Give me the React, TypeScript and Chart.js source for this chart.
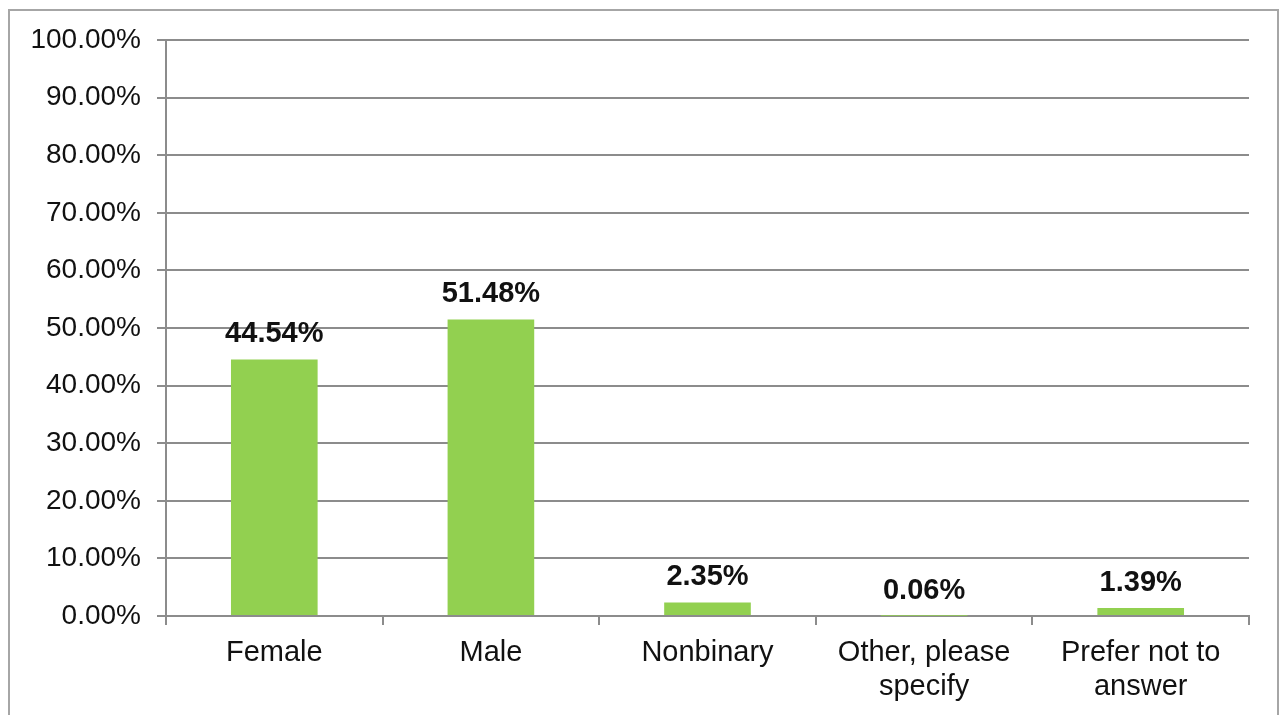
import React, { useEffect, useRef } from "react";
import { Chart, registerables } from "chart.js";

Chart.register(...registerables);

const categories: (string | string[])[] = [
  "Female",
  "Male",
  "Nonbinary",
  ["Other, please", "specify"],
  ["Prefer not to", "answer"],
];
const values: number[] = [44.54, 51.48, 2.35, 0.06, 1.39];
const yTickValues: number[] = [0, 10, 20, 30, 40, 50, 60, 70, 80, 90, 100];

const FONT = "'Liberation Sans', Arial, sans-serif";
const TEXT = "#111";

const dataLabelPlugin = {
  id: "dataLabels",
  afterDatasetsDraw(chart: any) {
    const { ctx } = chart;
    const meta = chart.getDatasetMeta(0);
    ctx.save();
    ctx.font = `bold 29px ${FONT}`;
    ctx.fillStyle = TEXT;
    ctx.textAlign = "center";
    ctx.textBaseline = "alphabetic";
    meta.data.forEach((bar: any, i: number) => {
      ctx.fillText(values[i].toFixed(2) + "%", bar.x, bar.y - 17);
    });
    ctx.restore();
  },
};

const framePlugin = {
  id: "frame",
  afterDraw(chart: any) {
    const { ctx } = chart;
    ctx.save();
    ctx.strokeStyle = "#a6a6a6";
    ctx.lineWidth = 2;
    ctx.strokeRect(9, 10, 1269, 740);
    ctx.restore();
  },
};

export default function App() {
  const canvasRef = useRef<HTMLCanvasElement | null>(null);

  useEffect(() => {
    const canvas = canvasRef.current;
    if (!canvas) return;
    const chart = new Chart(canvas, {
      type: "bar",
      data: {
        labels: categories,
        datasets: [
          {
            data: values,
            backgroundColor: "#92D050",
            borderWidth: 0,
            barPercentage: 0.8,
            categoryPercentage: 0.5,
          },
        ],
      },
      options: {
        responsive: false,
        animation: false,
        devicePixelRatio: 1,
        layout: { padding: { top: 40, right: 31, bottom: 0, left: 0 } },
        plugins: {
          legend: { display: false },
          tooltip: { enabled: false },
          title: { display: false },
        },
        scales: {
          x: {
            grid: {
              display: true,
              offset: true,
              drawOnChartArea: false,
              drawTicks: true,
              tickLength: 9,
              color: "#8c8c8c",
              lineWidth: 2,
            },
            border: { display: true, color: "#8c8c8c", width: 2 },
            ticks: {
              color: TEXT,
              font: { family: FONT, size: 29, lineHeight: 1.17 },
              padding: 11,
              maxRotation: 0,
              autoSkip: false,
            },
            afterFit(scale: any) {
              scale.height = 99;
            },
          },
          y: {
            min: 0,
            max: 100,
            afterBuildTicks(scale: any) {
              scale.ticks = yTickValues.map((v) => ({ value: v }));
            },
            grid: {
              color: "#8c8c8c",
              lineWidth: 2,
              tickLength: 9,
              drawTicks: true,
            },
            border: { display: true, color: "#8c8c8c", width: 2 },
            ticks: {
              color: TEXT,
              font: { family: FONT, size: 28 },
              padding: 16,
              callback: (v: any) => Number(v).toFixed(2) + "%",
            },
            afterFit(scale: any) {
              scale.width = 166;
            },
          },
        },
      },
      plugins: [dataLabelPlugin, framePlugin],
    });
    return () => chart.destroy();
  }, []);

  return (
    <div
      style={{
        position: "absolute",
        left: 0,
        top: 0,
        width: 1280,
        height: 715,
        background: "#fff",
      }}
    >
      <canvas ref={canvasRef} width={1280} height={715} style={{ display: "block" }} />
    </div>
  );
}
